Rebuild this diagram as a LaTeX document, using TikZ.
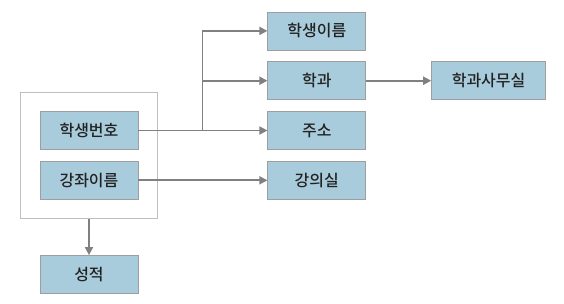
\documentclass[tikz,border=0pt]{standalone}
\usepackage{fontspec}
\setmainfont{Noto Sans CJK KR}[UprightFont=* Medium]
\usepackage{tikz}
\usetikzlibrary{positioning,calc,fit,arrows.meta}
\definecolor{keyblue}{RGB}{169,204,220}
\definecolor{keyedge}{RGB}{158,158,158}
\definecolor{linegray}{RGB}{128,128,128}
\definecolor{outeredge}{RGB}{190,190,190}
\definecolor{textdark}{RGB}{34,34,34}

\begin{document}
\begin{tikzpicture}[
  node distance=11pt and 129pt,
  box/.style={draw=keyedge,line width=0.8pt,fill=keyblue,text=textdark,
              minimum width=98pt,minimum height=38pt,inner sep=0pt,
              font=\fontsize{16}{19}\selectfont},
  link/.style={draw=linegray,line width=1.8pt},
  arrow/.style={link,-{Triangle[length=8pt,width=8pt]}}
]
  \useasboundingbox (-89pt,130.5pt) rectangle (475pt,-172.5pt);

  \node[box] (snum) {학생번호};
  \node[box, below=of snum] (cname) {강좌이름};
  \node[draw=outeredge,line width=0.8pt,inner sep=19pt,fit=(snum)(cname)] (key) {};
  \node[box, below=36pt of key] (grade) {성적};

  \node[box, right=of snum] (addr) {주소};
  \node[box, above=of addr] (dept) {학과};
  \node[box, above=of dept] (sname) {학생이름};
  \node[box, right=of cname] (room) {강의실};
  \node[box, right=65pt of dept, minimum width=114pt] (office) {학과사무실};

  \coordinate (split) at ($(snum.east)+(64pt,0)$);

  \draw[arrow] (snum) -- (addr);
  \draw[arrow] (split) |- (dept);
  \draw[arrow] (split) |- (sname);
  \draw[arrow] (cname) -- (room);
  \draw[arrow] (dept) -- (office);
  \draw[arrow] (key) -- (grade);
\end{tikzpicture}
\end{document}
